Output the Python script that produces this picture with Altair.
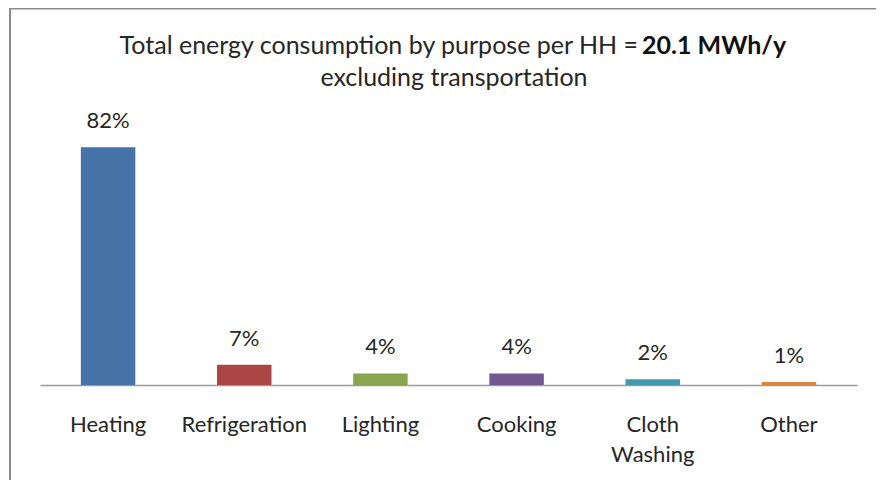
import altair as alt
import pandas as pd

categories = ["Heating", "Refrigeration", "Lighting", "Cooking", "Cloth Washing", "Other"]
shares = [82, 7, 4, 4, 2, 1]
colors = ["#4572A7", "#AA4643", "#89A54E", "#71588F", "#4198AF", "#DB843D"]
title_normal = "Total energy consumption by purpose per HH = "
title_bold = "20.1 MWh/y"
title_line2 = "excluding transportation"

df = pd.DataFrame({"cat": categories, "share": shares})
df["label"] = df["share"].astype(str) + "%"

FONT = "Lato"
TXT = "#262626"

x = alt.X("cat:N", sort=categories,
          scale=alt.Scale(paddingInner=0.6, paddingOuter=0.3),
          axis=alt.Axis(title=None, labelAngle=0, ticks=False, labelPadding=29,
                        labelFont=FONT, labelFontSize=22, labelColor=TXT,
                        labelLineHeight=30,
                        labelExpr="split(datum.label, ' ')",
                        domainColor="#9a9a9a", domainWidth=1.5, grid=False))
y = alt.Y("share:Q", scale=alt.Scale(domain=[0, 90], nice=False), axis=None)

bars = alt.Chart(df).mark_bar().encode(
    x=x, y=y,
    color=alt.Color("cat:N", scale=alt.Scale(domain=categories, range=colors), legend=None),
)
labels = alt.Chart(df).mark_text(font=FONT, fontSize=22, color=TXT, baseline="alphabetic", dy=-19).encode(
    x=alt.X("cat:N", sort=categories), y=y, text="label:N"
)

tdf = pd.DataFrame({"t": [0]})
t1 = alt.Chart(tdf).mark_text(font=FONT, fontSize=25, color=TXT, align="right", baseline="alphabetic").encode(
    x=alt.value(598), y=alt.value(-70), text=alt.value(title_normal))
t2 = alt.Chart(tdf).mark_text(font=FONT, fontSize=25, fontWeight="bold", color="#111", align="left", baseline="alphabetic").encode(
    x=alt.value(602), y=alt.value(-70), text=alt.value(title_bold))
t3 = alt.Chart(tdf).mark_text(font=FONT, fontSize=25, color=TXT, align="center", baseline="alphabetic").encode(
    x=alt.value(414), y=alt.value(-38), text=alt.value(title_line2))

top_border = alt.Chart(tdf).mark_rule(color="#8a8a8a", strokeWidth=2).encode(
    x=alt.value(-31), x2=alt.value(850), y=alt.value(-115.5))
left_border = alt.Chart(tdf).mark_rule(color="#8a8a8a", strokeWidth=2).encode(
    x=alt.value(-30), y=alt.value(-116), y2=alt.value(360))

chart = alt.layer(top_border, left_border, bars, labels, t1, t2, t3).properties(
    width=817, height=261,
    autosize=alt.AutoSizeParams(type="none"),
    padding={"left": 32, "top": 116, "right": 19, "bottom": 95},
).configure(background="white").configure_view(strokeWidth=0, stroke="transparent")

chart.save("out.html", embed_options={"renderer": "svg", "actions": False})
